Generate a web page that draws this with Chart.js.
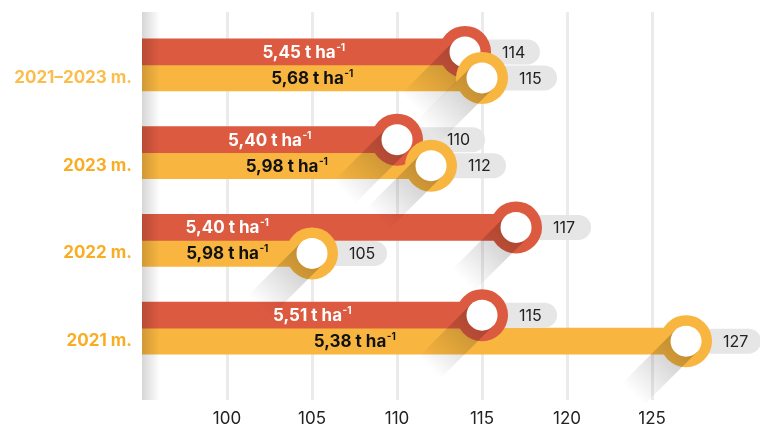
<!DOCTYPE html>
<html>
<head>
<meta charset="utf-8">
<script src="https://cdn.jsdelivr.net/npm/chart.js@4.4.1/dist/chart.umd.min.js"></script>
<style>
  html, body { margin: 0; background: #fff; }
  #wrap { width: 760px; height: 426px; position: relative; }
</style>
</head>
<body>
<div id="wrap"><canvas id="yieldChart"></canvas></div>
<script>
const periods = ["2021–2023 m.", "2023 m.", "2022 m.", "2021 m."];
const redValues = [114, 110, 117, 115];
const yellowValues = [115, 112, 105, 127];
const redYields = ["5,45", "5,40", "5,40", "5,51"];
const yellowYields = ["5,68", "5,98", "5,98", "5,38"];
const xTicks = [100, 105, 110, 115, 120, 125];

const RED = "#dc5a40";
const YELLOW = "#f8b640";
const FONT = "Inter, 'Noto Sans', sans-serif";

const seriesValues = [redValues, yellowValues];
const seriesYields = [redYields, yellowYields];

// vertical guide lines, a bit taller than the plot area
const guideLines = {
    id: "guideLines",
    beforeDatasetsDraw(chart) {
        const { ctx, scales } = chart;
        ctx.save();
        ctx.strokeStyle = "#ebebeb";
        ctx.lineWidth = 3;
        xTicks.forEach((v) => {
            const x = Math.round(scales.x.getPixelForValue(v)) + 0.5;
            ctx.beginPath();
            ctx.moveTo(x, 12);
            ctx.lineTo(x, 400);
            ctx.stroke();
        });
        ctx.restore();
    },
};

function drawYieldLabel(ctx, text, cx, cy, color) {
    const main = text + " t ha";
    const sup = "-1";
    ctx.font = "700 17px " + FONT;
    const w1 = ctx.measureText(main).width;
    ctx.font = "700 10px " + FONT;
    const w2 = ctx.measureText(sup).width;
    const x0 = cx - (w1 + w2) / 2;
    ctx.fillStyle = color;
    ctx.textBaseline = "middle";
    ctx.textAlign = "left";
    ctx.font = "700 17px " + FONT;
    ctx.fillText(main, x0, cy + 1);
    ctx.font = "700 10px " + FONT;
    ctx.fillText(sup, x0 + w1 + 0.5, cy - 4);
}

function drawMarker(ctx, x, y, color) {
    const outer = 26;
    const inner = 15.5;
    const len = 75;
    ctx.fillStyle = color;
    ctx.beginPath();
    ctx.arc(x, y, outer, 0, Math.PI * 2);
    ctx.fill();

    // long flat shadow of the white disk, falling down-left
    const d = [-Math.SQRT1_2, Math.SQRT1_2];
    const n = [Math.SQRT1_2, Math.SQRT1_2];
    const grad = ctx.createLinearGradient(x, y, x + d[0] * len, y + d[1] * len);
    grad.addColorStop(0, "rgba(0,0,0,0.24)");
    grad.addColorStop(1, "rgba(0,0,0,0)");
    ctx.fillStyle = grad;
    ctx.beginPath();
    ctx.moveTo(x + n[0] * inner, y + n[1] * inner);
    ctx.lineTo(x + n[0] * inner + d[0] * len, y + n[1] * inner + d[1] * len);
    ctx.lineTo(x - n[0] * inner + d[0] * len, y - n[1] * inner + d[1] * len);
    ctx.lineTo(x - n[0] * inner, y - n[1] * inner);
    ctx.closePath();
    ctx.fill();

    ctx.fillStyle = "#fff";
    ctx.beginPath();
    ctx.arc(x, y, inner, 0, Math.PI * 2);
    ctx.fill();
}

const barDecor = {
    id: "barDecor",
    afterDatasetsDraw(chart) {
        const { ctx, scales, chartArea } = chart;
        const metas = [chart.getDatasetMeta(0), chart.getDatasetMeta(1)];
        const baseX = scales.x.getPixelForValue(scales.x.min);
        ctx.save();

        // soft shadow along the left edge
        const edge = ctx.createLinearGradient(chartArea.left, 0, chartArea.left + 18, 0);
        edge.addColorStop(0, "rgba(0,0,0,0.16)");
        edge.addColorStop(1, "rgba(0,0,0,0)");
        ctx.fillStyle = edge;
        ctx.fillRect(chartArea.left, 12, 18, 388);

        // yield text inside the bars
        metas.forEach((meta, ds) => {
            meta.data.forEach((bar, i) => {
                const own = seriesValues[ds][i];
                const other = seriesValues[1 - ds][i];
                const reach = ds === 0 ? Math.min(own, other) : Math.min(own, other + 5);
                const cx = (baseX + scales.x.getPixelForValue(reach)) / 2;
                drawYieldLabel(ctx, seriesYields[ds][i], cx, bar.y, ds === 0 ? "#fff" : "#111");
            });
        });

        // grey value pills; the number steps aside when the neighbour ring sits on the pill
        metas.forEach((meta, ds) => {
            meta.data.forEach((bar, i) => {
                const otherX = metas[1 - ds].data[i].x;
                let textX = bar.x + 37;
                if (otherX > bar.x && otherX < bar.x + 75) textX = Math.max(textX, otherX + 16);
                ctx.fillStyle = "#e6e6e6";
                ctx.beginPath();
                ctx.roundRect(bar.x, bar.y - 12.5, textX - bar.x + 38, 25, 12.5);
                ctx.fill();
                ctx.fillStyle = "#222";
                ctx.font = "400 16px " + FONT;
                ctx.textAlign = "left";
                ctx.textBaseline = "middle";
                ctx.fillText(String(seriesValues[ds][i]), textX, bar.y + 1);
            });
        });

        // ring markers at bar ends
        periods.forEach((p, i) => {
            metas.forEach((meta, ds) => {
                const bar = meta.data[i];
                drawMarker(ctx, bar.x, bar.y, ds === 0 ? RED : YELLOW);
            });
        });
        ctx.restore();
    },
};

new Chart(document.getElementById("yieldChart"), {
    type: "bar",
    data: {
        labels: periods,
        datasets: [
            { data: redValues, backgroundColor: RED, barThickness: 26, borderWidth: 0 },
            { data: yellowValues, backgroundColor: YELLOW, barThickness: 26, borderWidth: 0 },
        ],
    },
    options: {
        indexAxis: "y",
        responsive: true,
        maintainAspectRatio: false,
        animation: false,
        layout: { padding: { top: 21, right: 0, bottom: 0, left: 0 } },
        plugins: { legend: { display: false }, tooltip: { enabled: false } },
        scales: {
            x: {
                min: 95,
                max: 131.35,
                grid: { display: false, drawTicks: false },
                border: { display: false },
                afterBuildTicks: (scale) => {
                    scale.ticks = xTicks.map((v) => ({ value: v }));
                },
                afterFit: (scale) => {
                    scale.height = 54;
                },
                ticks: {
                    autoSkip: false,
                    maxRotation: 0,
                    padding: 37,
                    color: "#222",
                    font: { family: FONT, size: 17 },
                },
            },
            y: {
                grid: { display: false, drawTicks: false },
                border: { display: false },
                afterFit: (scale) => {
                    scale.width = 142;
                },
                ticks: {
                    padding: 10,
                    labelOffset: 13,
                    color: (c) => (c.index === 0 ? "#fbbd4c" : "#f8ad22"),
                    font: { family: FONT, size: 17, weight: "bold" },
                },
            },
        },
    },
    plugins: [guideLines, barDecor],
});
</script>
</body>
</html>
